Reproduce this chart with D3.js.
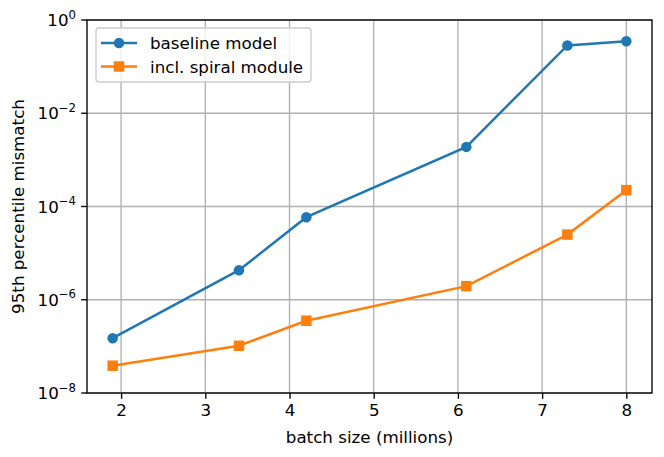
<!DOCTYPE html>
<html>
<head>
  <meta charset="utf-8">
  <script src="https://d3js.org/d3.v7.min.js"></script>
  <style>
    body { margin: 0; background: #fff; }
    text { font-family: "DejaVu Sans", sans-serif; fill: #000; }
  </style>
</head>
<body>
  <svg width="664" height="457"></svg>

  <script>
    // Data
    var batchSize = [1.9, 3.4, 4.2, 6.1, 7.3, 8.0];
    var baseline = [1.5e-7, 4.3e-6, 5.9e-5, 1.9e-3, 0.285, 0.35];
    var spiral = [3.85e-8, 1.03e-7, 3.55e-7, 1.96e-6, 2.5e-5, 2.24e-4];
    var xTicks = [2, 3, 4, 5, 6, 7, 8];
    var yExponents = [-8, -6, -4, -2, 0];
    var seriesNames = ["baseline model", "incl. spiral module"];
    var seriesColors = ["#1f77b4", "#ff7f0e"];

    var margin = { left: 87, top: 20, right: 12, bottom: 64 };
    var width = 664 - margin.left - margin.right;
    var height = 457 - margin.top - margin.bottom;
    var fs = 16.7;

    var svg = d3.select("svg");
    var g = svg.append("g")
      .attr("transform", "translate(" + margin.left + "," + margin.top + ")");

    // matplotlib-style 5% margin on x
    var xMin = d3.min(batchSize), xMax = d3.max(batchSize);
    var pad = (xMax - xMin) * 0.05;
    var x = d3.scaleLinear().domain([xMin - pad, xMax + pad]).range([0, width]);
    var y = d3.scaleLog().domain([1e-8, 1]).range([height, 0]);

    // Grid
    g.selectAll(".vgrid")
      .data(xTicks)
      .enter()
      .append("line")
      .attr("x1", d => x(d)).attr("x2", d => x(d))
      .attr("y1", 0).attr("y2", height)
      .attr("stroke", "#b0b0b0").attr("stroke-width", 1.35);

    g.selectAll(".hgrid")
      .data(yExponents)
      .enter()
      .append("line")
      .attr("x1", 0).attr("x2", width)
      .attr("y1", d => y(Math.pow(10, d))).attr("y2", d => y(Math.pow(10, d)))
      .attr("stroke", "#b0b0b0").attr("stroke-width", 1.35);

    // X axis
    var xAxis = g.append("g")
      .attr("transform", "translate(0," + height + ")")
      .call(d3.axisBottom(x).tickValues(xTicks).tickSize(5.8).tickPadding(5.5).tickFormat(d3.format("d")));
    xAxis.select(".domain").remove();
    xAxis.selectAll("line").attr("stroke", "#000").attr("stroke-width", 1.35);
    xAxis.selectAll("text").attr("font-size", fs).attr("font-family", "DejaVu Sans");

    // Y axis with superscript labels
    var yAxis = g.append("g");
    yExponents.forEach(function(e) {
      var yy = y(Math.pow(10, e));
      yAxis.append("line")
        .attr("x1", -5.8).attr("x2", 0)
        .attr("y1", yy).attr("y2", yy)
        .attr("stroke", "#000").attr("stroke-width", 1.35);
      var t = yAxis.append("text")
        .attr("x", -11)
        .attr("y", yy + 6)
        .attr("text-anchor", "end")
        .attr("font-size", fs);
      t.append("tspan").text("10");
      t.append("tspan")
        .attr("dy", -7.5)
        .attr("font-size", 11.7)
        .text(e < 0 ? "\u2212" + Math.abs(e) : String(e));
    });

    // Frame
    g.append("rect")
      .attr("width", width).attr("height", height)
      .attr("fill", "none").attr("stroke", "#000").attr("stroke-width", 1.35);

    // Axis labels
    svg.append("text")
      .attr("x", margin.left + width / 2)
      .attr("y", 443)
      .attr("text-anchor", "middle")
      .attr("font-size", fs)
      .text("batch size (millions)");

    svg.append("text")
      .attr("transform", "translate(24," + (margin.top + height / 2) + ") rotate(-90)")
      .attr("text-anchor", "middle")
      .attr("font-size", fs)
      .text("95th percentile mismatch");

    // Series
    var line = d3.line()
      .x((d, i) => x(batchSize[i]))
      .y(d => y(d));

    var series = [baseline, spiral];
    var ms = 10.5;

    series.forEach(function(vals, si) {
      g.append("path")
        .datum(vals)
        .attr("d", line)
        .attr("fill", "none")
        .attr("stroke", seriesColors[si])
        .attr("stroke-width", 2.5);

      if (si === 0) {
        g.selectAll(".pt0")
          .data(vals)
          .enter()
          .append("circle")
          .attr("cx", (d, i) => x(batchSize[i]))
          .attr("cy", d => y(d))
          .attr("r", ms / 2)
          .attr("fill", seriesColors[si]);
      } else {
        g.selectAll(".pt1")
          .data(vals)
          .enter()
          .append("rect")
          .attr("x", (d, i) => x(batchSize[i]) - ms / 2)
          .attr("y", d => y(d) - ms / 2)
          .attr("width", ms).attr("height", ms)
          .attr("fill", seriesColors[si]);
      }
    });

    // Legend
    var legend = g.append("g").attr("transform", "translate(9,8)");
    legend.append("rect")
      .attr("width", 215).attr("height", 54)
      .attr("rx", 3)
      .attr("fill", "#fff").attr("fill-opacity", 0.8)
      .attr("stroke", "#cccccc").attr("stroke-width", 1.35);

    seriesNames.forEach(function(name, i) {
      var ly = 15 + i * 23.5;
      legend.append("line")
        .attr("x1", 5).attr("x2", 41)
        .attr("y1", ly).attr("y2", ly)
        .attr("stroke", seriesColors[i]).attr("stroke-width", 2.5);
      if (i === 0) {
        legend.append("circle")
          .attr("cx", 23).attr("cy", ly).attr("r", ms / 2)
          .attr("fill", seriesColors[i]);
      } else {
        legend.append("rect")
          .attr("x", 23 - ms / 2).attr("y", ly - ms / 2)
          .attr("width", ms).attr("height", ms)
          .attr("fill", seriesColors[i]);
      }
      legend.append("text")
        .attr("x", 54)
        .attr("y", ly + 6)
        .attr("font-size", fs)
        .text(name);
    });
  </script>
</body>
</html>
